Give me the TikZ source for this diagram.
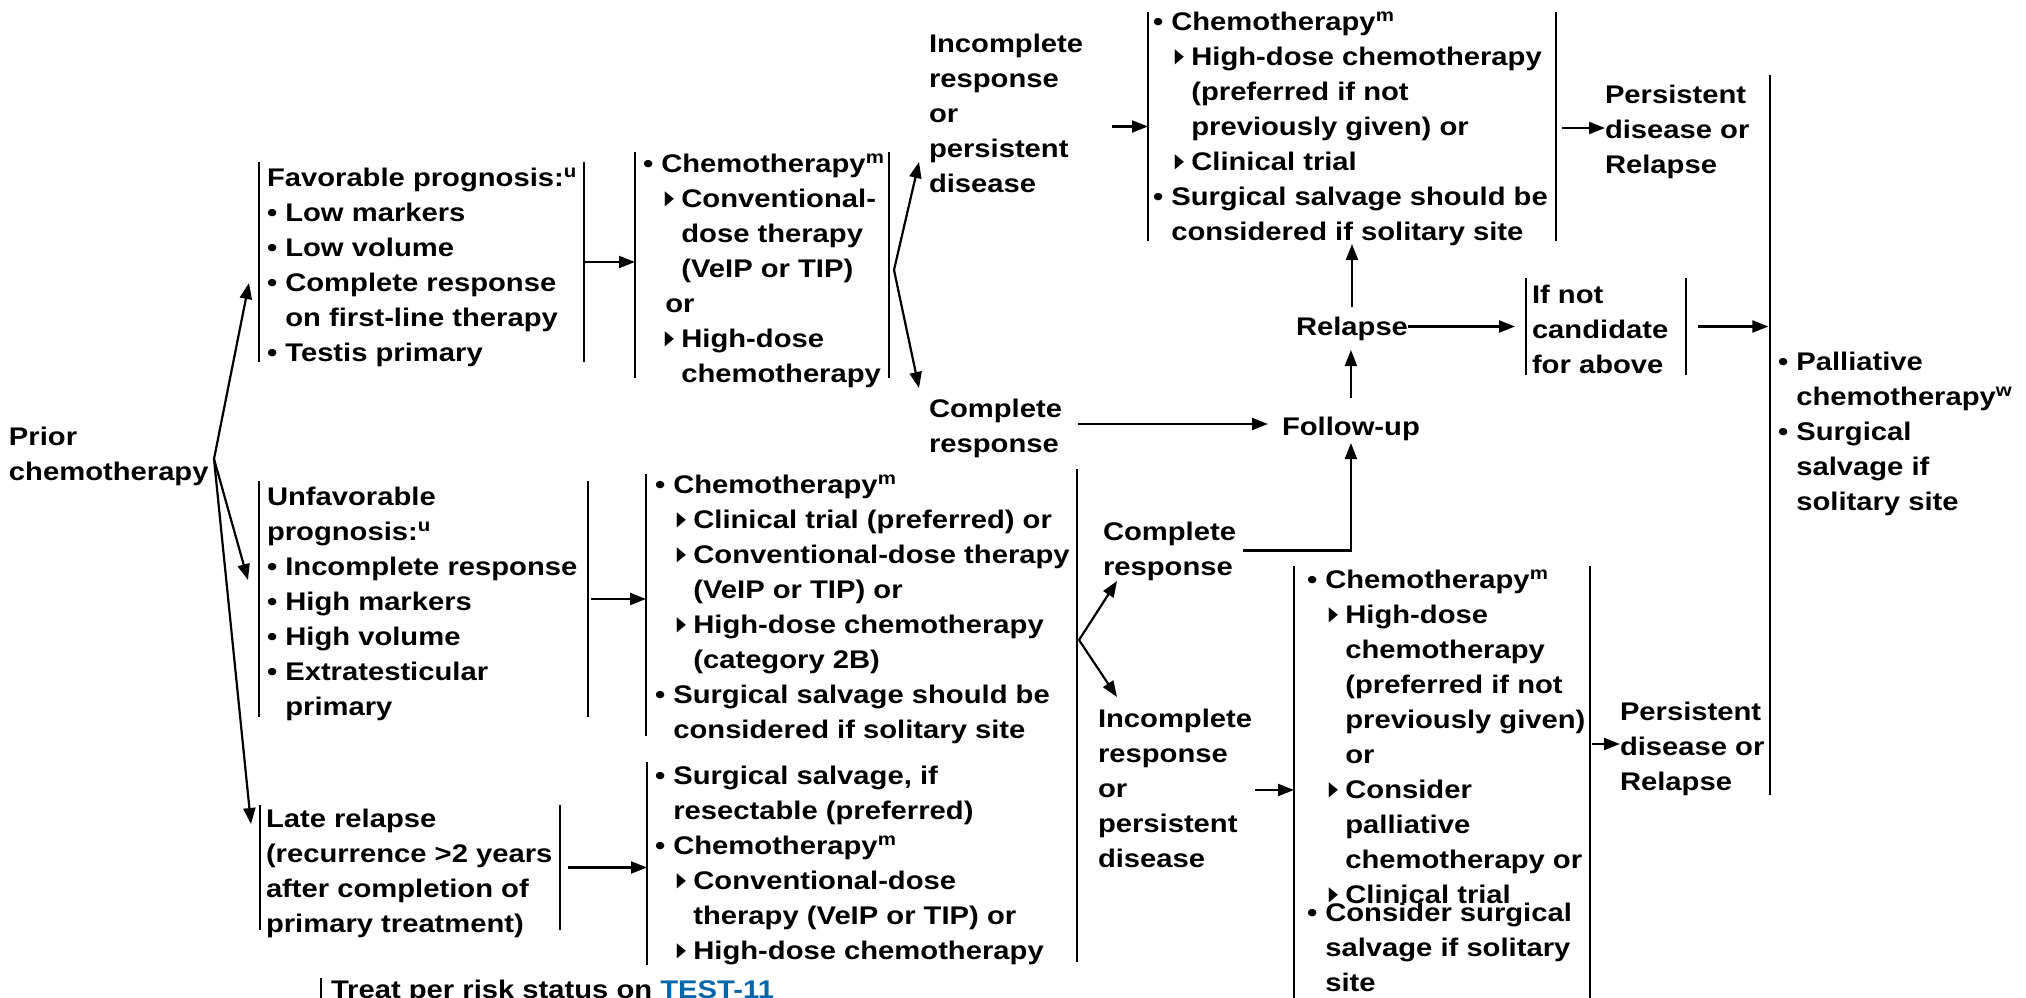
\documentclass[tikz,border=0pt]{standalone}
\usepackage{fontspec}
\setmainfont{Liberation Sans}[FakeStretch=1.145]
\newfontfamily\symfont{DejaVu Sans}
\usepackage{graphicx}
\usetikzlibrary{arrows.meta,fit,calc}
\definecolor{linkblue}{RGB}{0,102,170}
\newcommand\IND{\hphantom{•~}}
\newcommand\TIN{\hspace*{10pt}}
\newcommand\tri{\makebox[10pt][l]{\hspace*{1.8pt}\raisebox{1.2pt}{\resizebox{4.6pt}{6.4pt}{\symfont ▶}}}}
\newcommand\supx[1]{\textsuperscript{#1}}
\newcommand\blk[1]{\begin{tabular}[t]{@{}l@{}}#1\end{tabular}}
\newcommand\bracketbox[5]{\node[brk,fit={(#2,#4) (#3,#5)}] (#1) {};
  \draw[bar] (#1.north west) -- (#1.south west) (#1.north east) -- (#1.south east);}
\newcommand\vbar[4]{\node[brk,fit={(#2,#3) (#2,#4)}] (#1) {};
  \draw[bar] (#1.north) -- (#1.south);}
\begin{document}
\begin{tikzpicture}[x=0.5pt,y=-0.5pt,
  font=\fontsize{12.75pt}{17.5pt}\selectfont\bfseries,
  txt/.style={anchor=base west,inner sep=0pt,outer sep=0pt},
  bar/.style={line width=1.1pt},
  arr/.style={line width=1.1pt,-{Triangle[length=8pt,width=6pt]}},
  brk/.style={inner sep=0pt,outer sep=0pt}]
\useasboundingbox (0,0) rectangle (2026,997);
\fill[white] (0,0) rectangle (2026,997);

% ---------- texts ----------
\node[txt] (t_prior) at (9,445) {\blk{Prior\\chemotherapy}};
\node[txt] (t_fav) at (267,186) {\blk{Favorable prognosis:\supx{u}\\
•~Low markers\\
•~Low volume\\
•~Complete response\\
\IND on first-line therapy\\
•~Testis primary}};
\node[txt] (t_unf) at (267,505) {\blk{Unfavorable\\
prognosis:\supx{u}\\
•~Incomplete response\\
•~High markers\\
•~High volume\\
•~Extratesticular\\
\IND primary}};
\node[txt] (t_late) at (266,827) {\blk{Late relapse\\
(recurrence >2 years\\
after completion of\\
primary treatment)}};
\node[txt] (t_c1) at (643,172) {\blk{•~Chemotherapy\supx{m}\\
\IND\tri Conventional-\\
\IND\TIN dose therapy\\
\IND\TIN (VeIP or TIP)\\
\IND\hspace*{2pt}or\\
\IND\tri High-dose\\
\IND\TIN chemotherapy}};
\node[txt] (t_c2) at (655,493) {\blk{•~Chemotherapy\supx{m}\\
\IND\tri Clinical trial (preferred) or\\
\IND\tri Conventional-dose therapy\\
\IND\TIN (VeIP or TIP) or\\
\IND\tri High-dose chemotherapy\\
\IND\TIN (category 2B)\\
•~Surgical salvage should be\\
\IND considered if solitary site}};
\node[txt] (t_c3) at (655,784) {\blk{•~Surgical salvage, if\\
\IND resectable (preferred)\\
•~Chemotherapy\supx{m}\\
\IND\tri Conventional-dose\\
\IND\TIN therapy (VeIP or TIP) or\\
\IND\tri High-dose chemotherapy}};
\node[txt] (t_inc1) at (929,52) {\blk{Incomplete\\response\\or\\persistent\\disease}};
\node[txt] (t_cr1) at (929,417) {\blk{Complete\\response}};
\node[txt] (t_cr2) at (1103,540) {\blk{Complete\\response}};
\node[txt] (t_inc2) at (1098,727) {\blk{Incomplete\\response\\or\\persistent\\disease}};
\node[txt] (t_fu) at (1282,435) {\blk{Follow-up}};
\node[txt] (t_rel) at (1296,335) {\blk{Relapse}};
\node[txt] (t_c4) at (1153,30) {\blk{•~Chemotherapy\supx{m}\\
\IND\tri High-dose chemotherapy\\
\IND\TIN (preferred if not\\
\IND\TIN previously given) or\\
\IND\tri Clinical trial\\
•~Surgical salvage should be\\
\IND considered if solitary site}};
\node[txt] (t_pers1) at (1605,103) {\blk{Persistent\\disease or\\Relapse}};
\node[txt] (t_ifnot) at (1532,303) {\blk{If not\\candidate\\for above}};
\node[txt] (t_pall) at (1778,370) {\blk{•~Palliative\\
\IND chemotherapy\supx{w}\\
•~Surgical\\
\IND salvage if\\
\IND solitary site}};
\node[txt] (t_c5a) at (1307,588) {\blk{•~Chemotherapy\supx{m}\\
\IND\tri High-dose\\
\IND\TIN chemotherapy\\
\IND\TIN (preferred if not\\
\IND\TIN previously given)\\
\IND\TIN or\\
\IND\tri Consider\\
\IND\TIN palliative\\
\IND\TIN chemotherapy or\\
\IND\tri Clinical trial}};
\node[txt] (t_c5b) at (1307,921) {\blk{•~Consider surgical\\
\IND salvage if solitary\\
\IND site}};
\node[txt] (t_pers2) at (1620,720) {\blk{Persistent\\disease or\\Relapse}};
\node[txt] (t_treat) at (331,998) {Treat per risk status on {\color{linkblue}TEST-11}};

% ---------- brackets ----------
\bracketbox{b_fav}{259}{584}{162}{362}
\bracketbox{b_unf}{259}{588}{481}{717}
\bracketbox{b_late}{260}{560}{805}{930}
\bracketbox{b_c1}{635}{889}{152}{378}
\bracketbox{b_c4}{1148}{1556}{12}{241}
\bracketbox{b_ifnot}{1526}{1686}{278}{375}
\bracketbox{b_c5}{1294}{1590}{566}{1005}
\vbar{v_c2}{646}{474}{736}
\vbar{v_c3}{647}{762}{965}
\vbar{v_c23r}{1077}{469}{962}
\vbar{v_big}{1770}{75}{795}
\vbar{v_treat}{321}{978}{1005}

% ---------- connector points ----------
\coordinate (fan0) at (214,459);
\coordinate (tip_fav) at (249,283);
\coordinate (tip_unf) at (248,580);
\coordinate (tip_late) at (251,824);
\coordinate (fan1) at (894,270);
\coordinate (tip_inc1) at (919,162);
\coordinate (tip_cr1) at (919,388);
\coordinate (fan2) at (1079,640);
\coordinate (tip_cr2) at (1117,581);
\coordinate (tip_inc2) at (1117,697);

% ---------- connectors ----------
\draw[arr] (fan0) -- (tip_fav);
\draw[arr] (fan0) -- (tip_unf);
\draw[arr] (fan0) -- (tip_late);
\draw[arr] (b_fav.east) -- (b_fav.east -| b_c1.west);
\draw[arr] ([xshift=1.5pt]b_unf.east) -- (b_unf.east -| v_c2.center);
\draw[arr] ([xshift=4pt]b_late.east) -- (b_late.east -| v_c3.center);
\draw[arr] (fan1) -- (tip_inc1);
\draw[arr] (fan1) -- (tip_cr1);
\draw[arr] (fan2) -- (tip_cr2);
\draw[arr] (fan2) -- (tip_inc2);

\coordinate (fu_in) at ([xshift=-7pt,yshift=5.5pt]t_fu.base west);
\coordinate (cr1_out) at (t_cr1.east |- fu_in);
\draw[arr] ([xshift=8pt]cr1_out) -- (fu_in);
\draw[arr] ([xshift=3.5pt]t_cr2.east) -| ([yshift=1.25pt]t_fu.south);

\coordinate (rel_s) at (t_fu.north |- t_rel.south);
\draw[arr] ([yshift=6.25pt]t_fu.north) -- ([yshift=-2.25pt]rel_s);
\coordinate (c4_s) at (t_rel.north |- b_c4.south);
\draw[arr] ([yshift=1.75pt]t_rel.north) -- ([yshift=-1.5pt]c4_s);
\coordinate (rel_e) at (t_rel.east |- b_ifnot.west);
\draw[arr] (rel_e) -- ([xshift=-5.5pt]b_ifnot.west);

\draw[arr] ([xshift=-18pt]b_c4.west) -- (b_c4.west);
\coordinate (p1_w) at ([yshift=1.5pt]t_pers1.west);
\coordinate (c4_e) at (b_c4.east |- p1_w);
\draw[arr] ([xshift=3pt]c4_e) -- (p1_w);

\coordinate (big_in) at (v_big.center |- b_ifnot.east);
\draw[arr] ([xshift=6pt]b_ifnot.east) -- ([xshift=-0.8pt]big_in);

\draw[arr] ([xshift=1.5pt]t_inc2.east) -- (t_inc2.east -| b_c5.west);
\coordinate (p2_w) at ([yshift=2pt]t_pers2.west);
\coordinate (c5_e) at (b_c5.east |- p2_w);
\draw[arr] ([xshift=1pt]c5_e) -- (p2_w);
\end{tikzpicture}
\end{document}
